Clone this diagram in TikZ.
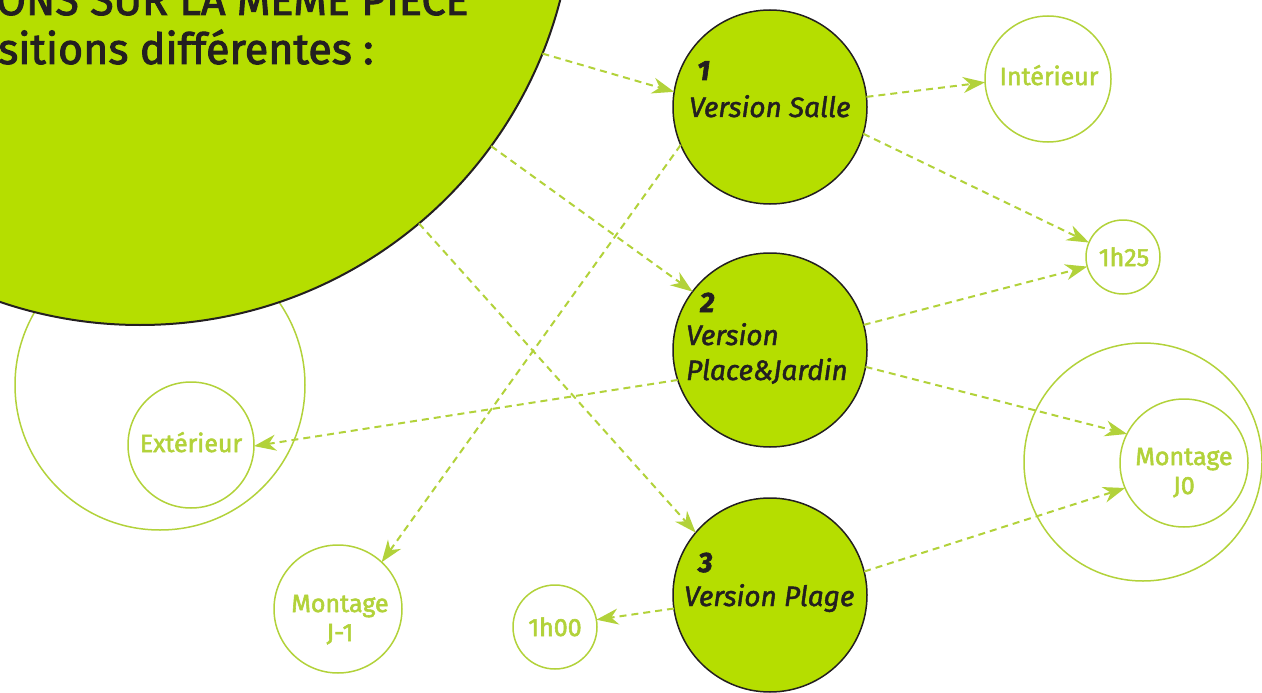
\documentclass[tikz,border=0pt]{standalone}
\usepackage{fontspec}
\setmainfont{Fira Sans}[FakeBold=2.2]
\newfontfamily\vfont{Fira Sans}[FakeBold=1.6]
\usetikzlibrary{arrows.meta}
\definecolor{lime}{RGB}{181,222,0}
\definecolor{lgreen}{RGB}{178,210,58}
\definecolor{ink}{RGB}{35,31,32}
\begin{document}
\begin{tikzpicture}[x=1pt,y=-1pt,
  ring/.style={circle,draw=lgreen,line width=1.5pt,inner sep=0pt,outer sep=0pt,text=lgreen,font=\fontsize{25}{29}\selectfont,align=center},
  lbl/.style={inner sep=0pt,text=lgreen,font=\fontsize{25}{29}\selectfont,align=center,anchor=base},
  vcirc/.style={circle,draw=ink,line width=1.5pt,fill=lime,inner sep=0pt,outer sep=0pt,minimum size=194pt},
  vnum/.style={anchor=base west,inner sep=0pt,text=ink,font=\fontsize{28}{34}\selectfont\bfseries\itshape},
  vtxt/.style={anchor=base west,inner sep=0pt,text=ink,align=left,font=\vfont\fontsize{28}{35}\selectfont\itshape},
  ttl/.style={anchor=base west,inner sep=0pt,text=ink,font=\fontsize{43}{48}\selectfont},
  arr/.style={draw=lgreen,line width=2pt,dash pattern=on 7pt off 5pt,-{Stealth[length=22pt,width=16pt,inset=7pt]}},
]
\useasboundingbox (0,0) rectangle (1262,693);
\node[ring,minimum size=290pt] (extouter) at (160,385) {};
\node[circle,fill=lime,draw=ink,line width=2pt,minimum size=868pt,inner sep=0pt,outer sep=0pt] (big) at (140,-109) {};
\node[ttl] (title1) at (-4,15) {ONS SUR LA MÊME PIÈCE};
\node[ttl] (title2) at (-2,64) {sitions différentes :};

\node[ring,minimum size=126pt] (ext) at (191,445) {};
\node[lbl] (extt) at (191,452) {Extérieur};
\node[ring,minimum size=128pt] (jm1) at (338,609) {};
\node[lbl] (jm1t) at (340,641) {Montage\\J-1};
\node[ring,minimum size=84pt] (h100) at (555,627) {};
\node[lbl] (h100t) at (555,636) {1h00};
\node[ring,minimum size=126pt] (int) at (1048,79) {};
\node[lbl] (intt) at (1049,85) {Intérieur};
\node[ring,minimum size=74pt] (h125) at (1123,257) {};
\node[lbl] (h125t) at (1124,266) {1h25};
\node[ring,minimum size=238pt] (j0outer) at (1143,462) {};
\node[ring,minimum size=128pt] (j0) at (1184,463) {};
\node[lbl] (j0t) at (1184,494) {Montage\\J0};

\node[vcirc] (v1) at (770,107) {};
\node[vcirc] (v2) at (770,350) {};
\node[vcirc] (v3) at (770,595) {};
\node[vnum] (n1) at (697,80) {1};
\node[vtxt] (t1) at (689,117) {Version Salle};
\node[vnum] (n2) at (700,312) {2};
\node[vtxt] (t2) at (686,380) {Version\\Place\&Jardin};
\node[vnum] (n3) at (698,572) {3};
\node[vtxt] (t3) at (684,606) {Version Plage};

\draw[arr] (big.-22.5) -- (v1.171.6);
\draw[arr] (big.-36.3) -- (v2.143.5);
\draw[arr] (big.-50.5) -- (v3.140.7);
\draw[arr] (v1.-157.6) -- (jm1.47.4);
\draw[arr] (v1.6.8) -- (int.183.5);
\draw[arr] (v1.-16) -- (h125.157);
\draw[arr] (v2.15) -- (h125.195);
\draw[arr] (v2.198.6) -- (ext.359);
\draw[arr] (v2.-10.4) -- (j0.153.4);
\draw[arr] (v3.14.3) -- (j0.203.5);
\draw[arr] (v3.188.8) -- (h100.10.5);
\end{tikzpicture}
\end{document}
